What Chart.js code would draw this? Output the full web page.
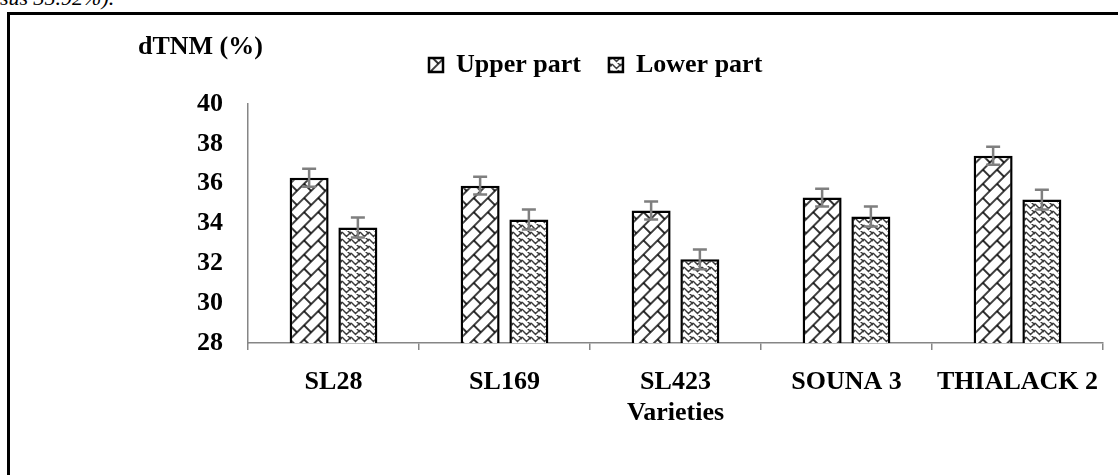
<!DOCTYPE html>
<html>
<head>
<meta charset="utf-8">
<script src="https://cdn.jsdelivr.net/npm/chart.js@4.4.0/dist/chart.umd.min.js"></script>
<style>
  body { margin: 0; background: #fff; overflow: hidden; }
  #wrap { position: relative; width: 1118px; height: 475px; overflow: hidden; }
  #box { position: absolute; left: 7px; top: 12px; width: 1300px; height: 700px; border-left: 3px solid #000; border-top: 3px solid #000; }
  #note { position: absolute; left: 0; top: -15px; font: italic 22px "Liberation Serif"; white-space: nowrap; }
  canvas { position: absolute; left: 0; top: 0; }
</style>
</head>
<body>
<div id="wrap">
  <div id="note">sus 35.92%).</div>
  <div id="box"></div>
  <canvas id="myChart" width="1118" height="475"></canvas>
</div>
<script>
var varieties = ["SL28", "SL169", "SL423", "SOUNA 3", "THIALACK 2"]
var upperPart = [36.3, 35.9, 34.65, 35.3, 37.4]
var lowerPart = [33.8, 34.2, 32.2, 34.35, 35.2]
var upperErr = [0.45, 0.45, 0.45, 0.45, 0.45]
var lowerErr = [0.5, 0.5, 0.5, 0.5, 0.5]
var yTicks = [28, 30, 32, 34, 36, 38, 40]

var FONT = "'Liberation Serif', 'Times New Roman', serif"

// brick pattern, drawn flat then turned 45 degrees
function brickPattern(ctx) {
  var c = document.createElement("canvas")
  c.width = 20; c.height = 20
  var g = c.getContext("2d")
  g.fillStyle = "#fff"
  g.fillRect(0, 0, 20, 20)
  g.strokeStyle = "#000"
  g.lineWidth = 1.6
  g.beginPath()
  g.moveTo(0, 5); g.lineTo(20, 5)
  g.moveTo(0, 15); g.lineTo(20, 15)
  g.moveTo(5, 5); g.lineTo(5, 15)
  g.moveTo(15, 15); g.lineTo(15, 20)
  g.moveTo(15, 0); g.lineTo(15, 5)
  g.stroke()
  var p = ctx.createPattern(c, "repeat")
  p.setTransform(new DOMMatrix().rotate(-45))
  return p
}

// zig zag weave
function zigzagPattern(ctx) {
  var c = document.createElement("canvas")
  c.width = 9; c.height = 7
  var g = c.getContext("2d")
  g.fillStyle = "#fff"
  g.fillRect(0, 0, 9, 7)
  g.strokeStyle = "#3a3a3a"
  g.lineWidth = 1.4
  g.beginPath()
  g.moveTo(0, 1); g.lineTo(4.5, 5.5); g.lineTo(9, 1)
  g.moveTo(-4.5, 5.5); g.lineTo(0, 10)
  g.moveTo(4.5, -1.5); g.lineTo(9, 3)
  g.stroke()
  return ctx.createPattern(c, "repeat")
}

var errorBars = {
  id: "errorBars",
  afterDatasetsDraw: function(chart) {
    var ctx = chart.ctx
    var y = chart.scales.y
    chart.data.datasets.forEach(function(ds, di) {
      chart.getDatasetMeta(di).data.forEach(function(bar, i) {
        var top = y.getPixelForValue(ds.data[i] + ds.errors[i])
        var bot = y.getPixelForValue(ds.data[i] - ds.errors[i])
        ctx.save()
        ctx.strokeStyle = "#7f7f7f"
        ctx.lineWidth = 2.5
        ctx.beginPath()
        ctx.moveTo(bar.x, top); ctx.lineTo(bar.x, bot)
        ctx.moveTo(bar.x - 7, top); ctx.lineTo(bar.x + 7, top)
        ctx.moveTo(bar.x - 7, bot); ctx.lineTo(bar.x + 7, bot)
        ctx.stroke()
        ctx.restore()
      })
    })
  }
}

var extras = {
  id: "extras",
  beforeInit: function(chart) {
    var fit = chart.legend.fit
    chart.legend.fit = function() {
      fit.call(chart.legend)
      this.height = 80
    }
  },
  afterLayout: function(chart) {
    chart.legend.left = 401
  },
  afterDraw: function(chart) {
    var ctx = chart.ctx
    ctx.save()
    ctx.font = "bold 26px " + FONT
    ctx.fillStyle = "#000"
    ctx.textBaseline = "alphabetic"
    ctx.fillText("dTNM (%)", 138, 54)
    ctx.restore()
  }
}

document.addEventListener("DOMContentLoaded", function(event) {

var ctx = document.getElementById("myChart")
var c2d = ctx.getContext("2d")

var myChart = new Chart(ctx, {
  type: 'bar',
  data: {
    labels: varieties,
    datasets: [
      {
        label: "Upper part",
        data: upperPart,
        errors: upperErr,
        backgroundColor: brickPattern(c2d),
        borderColor: "#000",
        borderWidth: 2.5
      },
      {
        label: "Lower part",
        data: lowerPart,
        errors: lowerErr,
        backgroundColor: zigzagPattern(c2d),
        borderColor: "#000",
        borderWidth: 2.5
      }
    ]
  },
  options: {
    responsive: false,
    animation: false,
    events: [],
    categoryPercentage: 0.57,
    barPercentage: 0.8,
    layout: { padding: { top: 24, right: 15, left: 0, bottom: 0 } },
    plugins: {
      legend: {
        position: 'top',
        align: 'start',
        labels: {
          boxWidth: 14,
          boxHeight: 14,
          padding: 28,
          color: "#000",
          font: { family: FONT, size: 26, weight: 'bold' }
        }
      },
      tooltip: { enabled: false }
    },
    scales: {
      x: {
        grid: { display: true, drawOnChartArea: false, drawTicks: true, tickLength: 7, color: "#868686", lineWidth: 1.5 },
        border: { display: true, color: "#868686", width: 1.5 },
        ticks: { color: "#000", padding: 17, font: { family: FONT, size: 26, weight: 'bold' } },
        title: { display: true, text: "Varieties", color: "#000", padding: { top: 0, bottom: 46 }, font: { family: FONT, size: 26, weight: 'bold' } },
        afterFit: function(scale) { scale.height = 132 }
      },
      y: {
        min: 28,
        max: 40,
        grid: { display: false, drawTicks: false },
        border: { display: true, color: "#868686", width: 1.5 },
        afterBuildTicks: function(scale) {
          scale.ticks = yTicks.map(function(v) { return { value: v } })
        },
        ticks: { color: "#000", padding: 25, font: { family: FONT, size: 26, weight: 'bold' } },
        afterFit: function(scale) { scale.width = 248 }
      }
    }
  },
  plugins: [errorBars, extras]
})

})
</script>
</body>
</html>
